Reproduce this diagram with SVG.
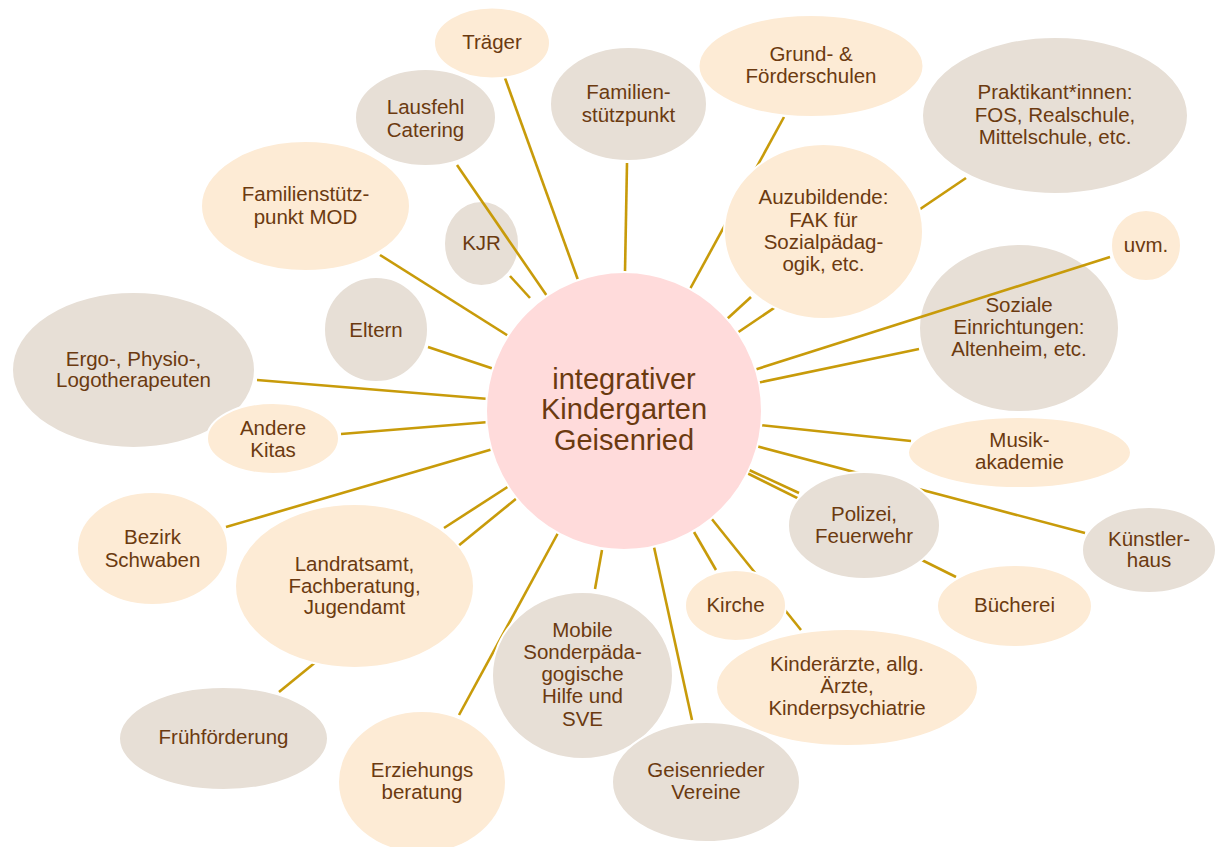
<svg xmlns="http://www.w3.org/2000/svg" width="1215" height="847" viewBox="0 0 1215 847">
<style>
.p{fill:#FDEBD5;stroke:#FFFFFF;stroke-width:2}
.g{fill:#E7DFD6;stroke:#FFFFFF;stroke-width:2}
.c{fill:#FFDBDB;stroke:#FFFFFF;stroke-width:2}
text{font-family:"Liberation Sans",Arial,sans-serif;font-size:20.5px;fill:#6B3A10;text-anchor:middle}
.big{font-size:29px}
#connectors line{stroke:#C89B0A;stroke-width:2.6;stroke-linecap:butt}
</style>
<rect width="1215" height="847" fill="#FFFFFF"/>
<g id="n-kjr"><ellipse class="g" cx="481.5" cy="243.5" rx="37.5" ry="42.5"/><text x="481.5" y="250">KJR</text></g>
<g id="n-soziale"><ellipse class="g" cx="1019" cy="328" rx="100" ry="84"/><text x="1019" y="312">Soziale</text><text x="1019" y="334">Einrichtungen:</text><text x="1019" y="356">Altenheim, etc.</text></g>
<g id="connectors">
<line x1="578" y1="280" x2="505" y2="78"/>
<line x1="547" y1="296" x2="457" y2="165"/>
<line x1="530" y1="298" x2="510" y2="276"/>
<line x1="510" y1="337" x2="380" y2="255"/>
<line x1="625" y1="272" x2="627" y2="163"/>
<line x1="690" y1="289" x2="784" y2="117"/>
<line x1="737" y1="333" x2="966" y2="178"/>
<line x1="727" y1="319" x2="751" y2="297"/>
<line x1="754" y1="370" x2="1110" y2="257"/>
<line x1="757" y1="383" x2="919" y2="349"/>
<line x1="759" y1="425" x2="911" y2="441"/>
<line x1="756" y1="446" x2="1085" y2="533"/>
<line x1="747" y1="469" x2="799" y2="493"/>
<line x1="747" y1="473" x2="956" y2="577"/>
<line x1="711" y1="518" x2="801" y2="630"/>
<line x1="694" y1="532" x2="716" y2="570"/>
<line x1="654" y1="547" x2="692" y2="720"/>
<line x1="602" y1="550" x2="595" y2="589"/>
<line x1="558" y1="533" x2="459" y2="715"/>
<line x1="517" y1="498" x2="279" y2="692"/>
<line x1="509" y1="486" x2="444" y2="528"/>
<line x1="493" y1="449" x2="226" y2="527"/>
<line x1="489" y1="422" x2="341" y2="434"/>
<line x1="489" y1="399" x2="257" y2="380"/>
<line x1="494" y1="369" x2="428" y2="347"/>
</g>
<g id="n-center"><ellipse class="c" cx="624" cy="411" rx="138" ry="139"/><text class="big" x="624" y="389">integrativer</text><text class="big" x="624" y="419">Kindergarten</text><text class="big" x="624" y="450">Geisenried</text></g>
<g id="n-traeger"><ellipse class="p" cx="492" cy="43" rx="58" ry="35.5"/><text x="492" y="49">Träger</text></g>
<g id="n-lausfehl"><ellipse class="g" cx="425.5" cy="117.5" rx="70.5" ry="48.5"/><text x="425.5" y="114">Lausfehl</text><text x="425.5" y="137">Catering</text></g>
<g id="n-fspmod"><ellipse class="p" cx="305.5" cy="206" rx="104.5" ry="65"/><text x="305.5" y="201">Familienstütz-</text><text x="305.5" y="224">punkt MOD</text></g>
<g id="n-fsp"><ellipse class="g" cx="628.5" cy="104" rx="78.5" ry="57"/><text x="628.5" y="99">Familien-</text><text x="628.5" y="122">stützpunkt</text></g>
<g id="n-grund"><ellipse class="p" cx="811" cy="66" rx="112.5" ry="51"/><text x="811" y="61">Grund- &amp;</text><text x="811" y="83">Förderschulen</text></g>
<g id="n-prakt"><ellipse class="g" cx="1055" cy="115.5" rx="133" ry="78.5"/><text x="1055" y="99">Praktikant*innen:</text><text x="1055" y="122">FOS, Realschule,</text><text x="1055" y="144">Mittelschule, etc.</text></g>
<g id="n-azubi"><ellipse class="p" cx="823.5" cy="231.5" rx="99.5" ry="87.5"/><text x="823.5" y="204">Auzubildende:</text><text x="823.5" y="227">FAK für</text><text x="823.5" y="249">Sozialpädag-</text><text x="823.5" y="271">ogik, etc.</text></g>
<g id="n-uvm"><ellipse class="p" cx="1146" cy="245.5" rx="35" ry="35.5"/><text x="1146" y="252">uvm.</text></g>
<g id="n-eltern"><ellipse class="g" cx="376" cy="329.5" rx="52" ry="52.5"/><text x="376" y="337">Eltern</text></g>
<g id="n-ergo"><ellipse class="g" cx="133.5" cy="370" rx="121.5" ry="78"/><text x="133.5" y="366">Ergo-, Physio-,</text><text x="133.5" y="387">Logotherapeuten</text></g>
<g id="n-andere"><ellipse class="p" cx="273" cy="438.5" rx="66" ry="35.5"/><text x="273" y="435">Andere</text><text x="273" y="457">Kitas</text></g>
<g id="n-musik"><ellipse class="p" cx="1019.5" cy="452.5" rx="111.5" ry="35.5"/><text x="1019.5" y="447">Musik-</text><text x="1019.5" y="469">akademie</text></g>
<g id="n-polizei"><ellipse class="g" cx="864" cy="525.5" rx="76" ry="53.5"/><text x="864" y="521">Polizei,</text><text x="864" y="543">Feuerwehr</text></g>
<g id="n-kuenstler"><ellipse class="g" cx="1149" cy="550" rx="67" ry="43"/><text x="1149" y="546">Künstler-</text><text x="1149" y="567">haus</text></g>
<g id="n-buecherei"><ellipse class="p" cx="1014.5" cy="606" rx="77.5" ry="41"/><text x="1014.5" y="612">Bücherei</text></g>
<g id="n-kinderaerzte"><ellipse class="p" cx="847" cy="687.5" rx="131" ry="58.5"/><text x="847" y="671">Kinderärzte, allg.</text><text x="847" y="693">Ärzte,</text><text x="847" y="715">Kinderpsychiatrie</text></g>
<g id="n-kirche"><ellipse class="p" cx="735.5" cy="605.5" rx="50.5" ry="35.5"/><text x="735.5" y="612">Kirche</text></g>
<g id="n-mobile"><ellipse class="g" cx="582.5" cy="675.5" rx="90.5" ry="83.5"/><text x="582.5" y="637">Mobile</text><text x="582.5" y="659">Sonderpäda-</text><text x="582.5" y="681">gogische</text><text x="582.5" y="703">Hilfe und</text><text x="582.5" y="726">SVE</text></g>
<g id="n-vereine"><ellipse class="g" cx="706" cy="782" rx="94" ry="60"/><text x="706" y="777">Geisenrieder</text><text x="706" y="799">Vereine</text></g>
<g id="n-erziehung"><ellipse class="p" cx="422" cy="782" rx="84" ry="71"/><text x="422" y="777">Erziehungs</text><text x="422" y="799">beratung</text></g>
<g id="n-landrat"><ellipse class="p" cx="354.5" cy="586" rx="119.5" ry="82"/><text x="354.5" y="571">Landratsamt,</text><text x="354.5" y="593">Fachberatung,</text><text x="354.5" y="614">Jugendamt</text></g>
<g id="n-frueh"><ellipse class="g" cx="223.5" cy="738.5" rx="104.5" ry="51.5"/><text x="223.5" y="744">Frühförderung</text></g>
<g id="n-bezirk"><ellipse class="p" cx="152.5" cy="548.5" rx="75.5" ry="56.5"/><text x="152.5" y="544">Bezirk</text><text x="152.5" y="567">Schwaben</text></g>
</svg>
